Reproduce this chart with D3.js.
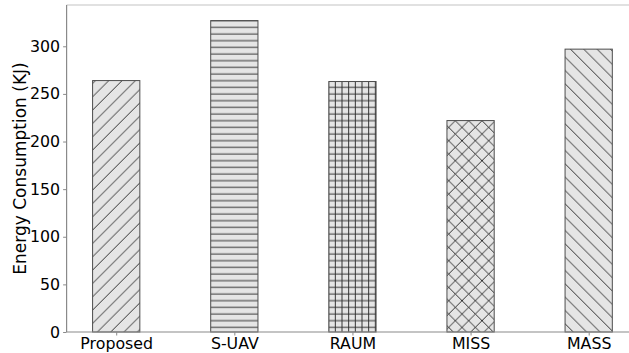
<!DOCTYPE html>
<html>
<head>
<meta charset="utf-8">
<script src="https://cdn.jsdelivr.net/npm/d3@7"></script>
<style>
  html, body { margin: 0; padding: 0; background: #fff; }
  svg { display: block; font-family: "DejaVu Sans", sans-serif; }
</style>
</head>
<body>
<svg id="chart" width="629" height="353"></svg>
<script>
// Energy consumption per scheme
const categories = ["Proposed", "S-UAV", "RAUM", "MISS", "MASS"];
const energy = [264, 327, 263, 222, 297];
const hatches = ["/", "-", "+", "x", "\\"];
const yTicks = [0, 50, 100, 150, 200, 250, 300];
const yLabel = "Energy Consumption (KJ)";

const svg = d3.select("#chart");
const W = 629, H = 353;
const plot = { left: 66.6, right: 638.3, top: 5, bottom: 332 };
const barWidth = 0.4;

// x: categorical positions 0..n-1 with a small margin on either side
const pad = 0.05 * (categories.length - 1 + barWidth);
const x = d3.scaleLinear()
  .domain([-barWidth / 2 - pad, categories.length - 1 + barWidth / 2 + pad])
  .range([plot.left, plot.right]);

const yMax = d3.max(energy) * 1.05;
const y = d3.scaleLinear().domain([0, yMax]).range([plot.bottom, plot.top]);

// Hatch patterns (40px tile, default hatch density)
const tile = 40, step = tile / 6, diag = tile / 3;
const defs = svg.append("defs");
const hatchColor = "#2a2a2a", hatchWidth = 0.95;

function makePattern(id, kind) {
  const p = defs.append("pattern")
    .attr("id", id)
    .attr("patternUnits", "userSpaceOnUse")
    .attr("x", 2).attr("y", 0.67)
    .attr("width", tile).attr("height", tile);
  p.append("rect").attr("width", tile).attr("height", tile).attr("fill", "#e5e5e5");
  const g = p.append("g").attr("stroke", hatchColor).attr("stroke-width", hatchWidth).attr("fill", "none");
  const addLine = (x1, y1, x2, y2) =>
    g.append("line").attr("x1", x1).attr("y1", y1).attr("x2", x2).attr("y2", y2);
  if (kind.includes("-") || kind.includes("+")) {
    for (let k = 0; k <= 6; k++) addLine(-1, k * step, tile + 1, k * step);
  }
  if (kind.includes("|") || kind.includes("+")) {
    for (let k = 0; k <= 6; k++) addLine(k * step, -1, k * step, tile + 1);
  }
  if (kind.includes("/") || kind.includes("x")) {
    for (let k = -3; k <= 3; k++) {
      const o = k * diag;
      addLine(o - 1, tile + 1, o + tile + 1, -1);
    }
  }
  if (kind.includes("\\") || kind.includes("x")) {
    for (let k = -3; k <= 3; k++) {
      const o = k * diag;
      addLine(o - 1, -1, o + tile + 1, tile + 1);
    }
  }
  return "url(#" + id + ")";
}

const fills = hatches.map((h, i) => makePattern("hatch" + i, h));

// Bars
svg.append("g").selectAll("rect")
  .data(energy)
  .join("rect")
  .attr("x", (d, i) => x(i - barWidth / 2))
  .attr("width", (d, i) => x(i + barWidth / 2) - x(i - barWidth / 2))
  .attr("y", d => y(d))
  .attr("height", d => y(0) - y(d))
  .attr("fill", (d, i) => fills[i])
  .attr("stroke", "#4d4d4d")
  .attr("stroke-width", 1);

// Spines
const spines = svg.append("g").attr("fill", "none");
spines.append("line")
  .attr("x1", plot.left).attr("x2", W).attr("y1", plot.top).attr("y2", plot.top)
  .attr("stroke", "#c4c4c4").attr("stroke-width", 1.2);
spines.append("line")
  .attr("x1", plot.left).attr("x2", plot.left).attr("y1", plot.top).attr("y2", plot.bottom)
  .attr("stroke", "#8a8a8a").attr("stroke-width", 1.2);
spines.append("line")
  .attr("x1", plot.left).attr("x2", W).attr("y1", plot.bottom).attr("y2", plot.bottom)
  .attr("stroke", "#8a8a8a").attr("stroke-width", 1.2);

// Y axis
const yAxis = svg.append("g")
  .attr("transform", `translate(${plot.left},0)`)
  .call(d3.axisLeft(y).tickValues(yTicks).tickSize(3.5).tickPadding(3));
yAxis.select(".domain").remove();
yAxis.selectAll(".tick line").attr("stroke", "#8a8a8a");
yAxis.selectAll(".tick text")
  .attr("font-size", 15.8).attr("fill", "#000")
  .attr("font-family", "DejaVu Sans");

// X axis
const xAxis = svg.append("g")
  .attr("transform", `translate(0,${plot.bottom})`)
  .call(d3.axisBottom(x)
    .tickValues(d3.range(categories.length))
    .tickFormat(i => categories[i])
    .tickSize(3.5).tickPadding(2));
xAxis.select(".domain").remove();
xAxis.selectAll(".tick line").attr("stroke", "#8a8a8a");
xAxis.selectAll(".tick text")
  .attr("font-size", 15.8).attr("fill", "#000")
  .attr("font-family", "DejaVu Sans");

// Y axis title
svg.append("text")
  .attr("transform", `translate(26,${(plot.top + plot.bottom) / 2}) rotate(-90)`)
  .attr("text-anchor", "middle")
  .attr("font-size", 17)
  .attr("fill", "#000")
  .text(yLabel);
</script>
</body>
</html>
